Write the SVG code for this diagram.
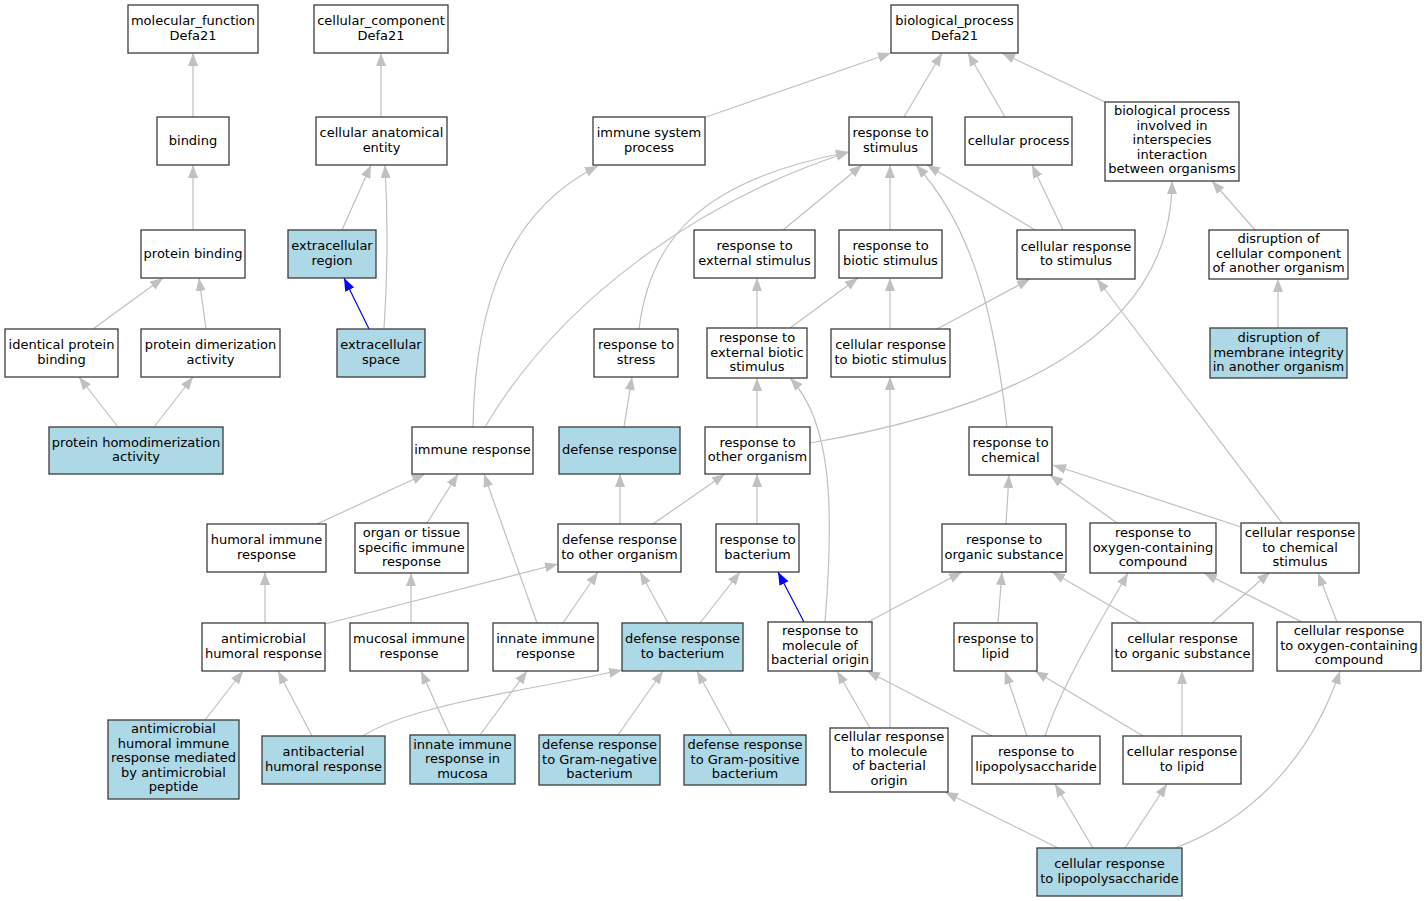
<svg xmlns="http://www.w3.org/2000/svg" width="1427" height="901" viewBox="0 0 1427 901">
<style>
.n rect{fill:#fff;stroke:#3c3c3c;stroke-width:1.3}
.n.h rect{fill:#add8e6}
.n text{font-family:"DejaVu Sans",sans-serif;font-size:13px;fill:#000;text-anchor:middle}
.e path{fill:none;stroke:#c0c0c0;stroke-width:1.2;marker-end:url(#ag)}
.e path.b{stroke:#0000ff;marker-end:url(#ab)}
</style>
<defs>
<marker id="ag" markerUnits="userSpaceOnUse" viewBox="0 0 13 10" refX="13" refY="5" markerWidth="13" markerHeight="10" orient="auto"><path d="M0,0 L13,5 L0,10 z" fill="#c0c0c0"/></marker>
<marker id="ab" markerUnits="userSpaceOnUse" viewBox="0 0 13 10" refX="13" refY="5" markerWidth="13" markerHeight="10" orient="auto"><path d="M0,0 L13,5 L0,10 z" fill="#0000ff"/></marker>
</defs>
<rect width="1427" height="901" fill="#fff"/>
<g id="edges" class="e">
<path d="M193,117 L193,53"/>
<path d="M193,230 L193,165"/>
<path d="M93,329 L163,278"/>
<path d="M206,329 L199,278"/>
<path d="M118,427 L79,377"/>
<path d="M154,427 L193,377"/>
<path d="M381,117 L381,53"/>
<path d="M342,230 L371,165"/>
<path d="M384,329 C388,270 388,220 385,165"/>
<path class="b" d="M369,329 L344,278"/>
<path d="M706,117 L891,53"/>
<path d="M904,117 L942,53"/>
<path d="M1005,117 L968,53"/>
<path d="M1105,102 L1002,53"/>
<path d="M783,230 L862,165"/>
<path d="M890,230 L890,165"/>
<path d="M1035,230 L927,165"/>
<path d="M1063,230 L1032,165"/>
<path d="M1255,230 L1212,181"/>
<path d="M1278,328 L1278,279"/>
<path d="M639,329 C650,240 700,180 849,152"/>
<path d="M485,427 C560,300 700,200 849,152"/>
<path d="M473,427 C475,300 510,210 598,166"/>
<path d="M757,328 L757,278"/>
<path d="M790,328 L858,278"/>
<path d="M890,329 L890,278"/>
<path d="M937,329 L1030,279"/>
<path d="M624,427 L632,377"/>
<path d="M757,427 L757,378"/>
<path d="M810,443 C1000,410 1172,340 1172,181"/>
<path d="M1007,427 C995,320 975,230 916,165"/>
<path d="M1282,523 L1097,279"/>
<path d="M317,524 L425,474"/>
<path d="M427,523 L458,474"/>
<path d="M620,524 L620,474"/>
<path d="M653,524 L725,474"/>
<path d="M757,524 L757,474"/>
<path d="M1006,524 L1009,475"/>
<path d="M1117,523 L1050,475"/>
<path d="M1241,527 L1053,465"/>
<path d="M265,623 L265,572"/>
<path d="M325,624 L558,564"/>
<path d="M411,623 L411,573"/>
<path d="M537,623 L484,474"/>
<path d="M563,623 L598,572"/>
<path d="M668,623 L640,572"/>
<path d="M700,623 L740,572"/>
<path class="b" d="M804,622 L778,572"/>
<path d="M825,622 C835,500 830,420 790,378"/>
<path d="M868,622 L962,572"/>
<path d="M998,623 L1002,572"/>
<path d="M1140,623 L1052,572"/>
<path d="M1212,623 L1270,572"/>
<path d="M1302,622 L1204,573"/>
<path d="M1337,622 L1318,573"/>
<path d="M205,720 L243,671"/>
<path d="M312,736 L278,671"/>
<path d="M363,736 C410,705 530,690 622,670"/>
<path d="M450,735 L421,671"/>
<path d="M480,735 L527,671"/>
<path d="M618,735 L663,671"/>
<path d="M732,735 L697,671"/>
<path d="M870,728 L837,671"/>
<path d="M890,728 L890,377"/>
<path d="M992,736 L867,671"/>
<path d="M1027,736 L1005,671"/>
<path d="M1045,736 C1060,690 1095,630 1128,573"/>
<path d="M1143,736 L1035,671"/>
<path d="M1182,736 L1182,671"/>
<path d="M1058,848 L945,792"/>
<path d="M1093,848 L1055,784"/>
<path d="M1125,848 L1167,784"/>
<path d="M1175,848 C1250,820 1310,760 1340,671"/>
</g>
<g id="n_mf" class="n"><rect x="128" y="5" width="130" height="48"/><text x="193" y="25">molecular_function</text><text x="193" y="40">Defa21</text></g>
<g id="n_cc" class="n"><rect x="314" y="5" width="134" height="48"/><text x="381" y="25">cellular_component</text><text x="381" y="40">Defa21</text></g>
<g id="n_bp" class="n"><rect x="891" y="5" width="127" height="48"/><text x="954.5" y="25">biological_process</text><text x="954.5" y="40">Defa21</text></g>
<g id="n_binding" class="n"><rect x="157" y="117" width="72" height="48"/><text x="193" y="145">binding</text></g>
<g id="n_cae" class="n"><rect x="316" y="117" width="131" height="48"/><text x="381.5" y="137">cellular anatomical</text><text x="381.5" y="152">entity</text></g>
<g id="n_isp" class="n"><rect x="593" y="117" width="112" height="48"/><text x="649" y="137">immune system</text><text x="649" y="152">process</text></g>
<g id="n_rts" class="n"><rect x="849" y="117" width="83" height="48"/><text x="890.5" y="137">response to</text><text x="890.5" y="152">stimulus</text></g>
<g id="n_cp" class="n"><rect x="965" y="117" width="107" height="48"/><text x="1018.5" y="145">cellular process</text></g>
<g id="n_bpii" class="n"><rect x="1105" y="102" width="134" height="79"/><text x="1172" y="115">biological process</text><text x="1172" y="129.5">involved in</text><text x="1172" y="144">interspecies</text><text x="1172" y="158.5">interaction</text><text x="1172" y="173">between organisms</text></g>
<g id="n_pb" class="n"><rect x="141" y="230" width="104" height="48"/><text x="193" y="258">protein binding</text></g>
<g id="n_er" class="n h"><rect x="288" y="230" width="88" height="48"/><text x="332" y="250">extracellular</text><text x="332" y="265">region</text></g>
<g id="n_rtes" class="n"><rect x="694" y="230" width="121" height="48"/><text x="754.5" y="250">response to</text><text x="754.5" y="265">external stimulus</text></g>
<g id="n_rtbs" class="n"><rect x="839" y="230" width="103" height="48"/><text x="890.5" y="250">response to</text><text x="890.5" y="265">biotic stimulus</text></g>
<g id="n_crts" class="n"><rect x="1017" y="230" width="118" height="49"/><text x="1076" y="250.5">cellular response</text><text x="1076" y="265">to stimulus</text></g>
<g id="n_dcc" class="n"><rect x="1209" y="230" width="139" height="49"/><text x="1278.5" y="243">disruption of</text><text x="1278.5" y="257.5">cellular component</text><text x="1278.5" y="272">of another organism</text></g>
<g id="n_ipb" class="n"><rect x="5" y="329" width="113" height="48"/><text x="61.5" y="349">identical protein</text><text x="61.5" y="364">binding</text></g>
<g id="n_pda" class="n"><rect x="141" y="329" width="139" height="48"/><text x="210.5" y="349">protein dimerization</text><text x="210.5" y="364">activity</text></g>
<g id="n_es" class="n h"><rect x="337" y="329" width="88" height="48"/><text x="381" y="349">extracellular</text><text x="381" y="364">space</text></g>
<g id="n_rtst" class="n"><rect x="594" y="329" width="84" height="48"/><text x="636" y="349">response to</text><text x="636" y="364">stress</text></g>
<g id="n_rtebs" class="n"><rect x="707" y="328" width="100" height="50"/><text x="757" y="342">response to</text><text x="757" y="356.5">external biotic</text><text x="757" y="371">stimulus</text></g>
<g id="n_crbs" class="n"><rect x="831" y="329" width="119" height="48"/><text x="890.5" y="349">cellular response</text><text x="890.5" y="364">to biotic stimulus</text></g>
<g id="n_dmi" class="n h"><rect x="1210" y="328" width="137" height="50"/><text x="1278.5" y="342">disruption of</text><text x="1278.5" y="356.5">membrane integrity</text><text x="1278.5" y="371">in another organism</text></g>
<g id="n_pha" class="n h"><rect x="49" y="427" width="174" height="47"/><text x="136" y="446.5">protein homodimerization</text><text x="136" y="461">activity</text></g>
<g id="n_ir" class="n"><rect x="412" y="427" width="121" height="47"/><text x="472.5" y="454">immune response</text></g>
<g id="n_dr" class="n h"><rect x="559" y="427" width="121" height="47"/><text x="619.5" y="454">defense response</text></g>
<g id="n_rtoo" class="n"><rect x="705" y="427" width="105" height="47"/><text x="757.5" y="446.5">response to</text><text x="757.5" y="461">other organism</text></g>
<g id="n_rtc" class="n"><rect x="969" y="427" width="83" height="48"/><text x="1010.5" y="447">response to</text><text x="1010.5" y="461.5">chemical</text></g>
<g id="n_hir" class="n"><rect x="207" y="524" width="119" height="48"/><text x="266.5" y="544">humoral immune</text><text x="266.5" y="559">response</text></g>
<g id="n_otsir" class="n"><rect x="355" y="523" width="113" height="50"/><text x="411.5" y="537">organ or tissue</text><text x="411.5" y="551.5">specific immune</text><text x="411.5" y="566">response</text></g>
<g id="n_drtoo" class="n"><rect x="558" y="524" width="123" height="48"/><text x="619.5" y="544">defense response</text><text x="619.5" y="559">to other organism</text></g>
<g id="n_rtb" class="n"><rect x="716" y="524" width="83" height="48"/><text x="757.5" y="544">response to</text><text x="757.5" y="559">bacterium</text></g>
<g id="n_rtos" class="n"><rect x="942" y="524" width="124" height="48"/><text x="1004" y="544">response to</text><text x="1004" y="559">organic substance</text></g>
<g id="n_rtocc" class="n"><rect x="1090" y="523" width="126" height="50"/><text x="1153" y="537">response to</text><text x="1153" y="551.5">oxygen-containing</text><text x="1153" y="566">compound</text></g>
<g id="n_crtcs" class="n"><rect x="1241" y="523" width="118" height="50"/><text x="1300" y="537">cellular response</text><text x="1300" y="551.5">to chemical</text><text x="1300" y="566">stimulus</text></g>
<g id="n_ahr" class="n"><rect x="202" y="623" width="123" height="48"/><text x="263.5" y="643">antimicrobial</text><text x="263.5" y="658">humoral response</text></g>
<g id="n_mir" class="n"><rect x="350" y="623" width="118" height="48"/><text x="409" y="643">mucosal immune</text><text x="409" y="658">response</text></g>
<g id="n_iir" class="n"><rect x="493" y="623" width="105" height="48"/><text x="545.5" y="643">innate immune</text><text x="545.5" y="658">response</text></g>
<g id="n_drtb" class="n h"><rect x="622" y="623" width="121" height="48"/><text x="682.5" y="643">defense response</text><text x="682.5" y="658">to bacterium</text></g>
<g id="n_rtmbo" class="n"><rect x="768" y="622" width="104" height="49"/><text x="820" y="635">response to</text><text x="820" y="649.5">molecule of</text><text x="820" y="664">bacterial origin</text></g>
<g id="n_rtl" class="n"><rect x="954" y="623" width="83" height="48"/><text x="995.5" y="643">response to</text><text x="995.5" y="658">lipid</text></g>
<g id="n_crtos" class="n"><rect x="1112" y="623" width="141" height="48"/><text x="1182.5" y="643">cellular response</text><text x="1182.5" y="658">to organic substance</text></g>
<g id="n_crtocc" class="n"><rect x="1277" y="622" width="144" height="49"/><text x="1349" y="635">cellular response</text><text x="1349" y="649.5">to oxygen-containing</text><text x="1349" y="664">compound</text></g>
<g id="n_ahirm" class="n h"><rect x="108" y="720" width="131" height="79"/><text x="173.5" y="733">antimicrobial</text><text x="173.5" y="747.5">humoral immune</text><text x="173.5" y="762">response mediated</text><text x="173.5" y="776.5">by antimicrobial</text><text x="173.5" y="791">peptide</text></g>
<g id="n_abhr" class="n h"><rect x="262" y="736" width="123" height="48"/><text x="323.5" y="756">antibacterial</text><text x="323.5" y="771">humoral response</text></g>
<g id="n_iirm" class="n h"><rect x="410" y="735" width="105" height="49"/><text x="462.5" y="748.5">innate immune</text><text x="462.5" y="763">response in</text><text x="462.5" y="777.5">mucosa</text></g>
<g id="n_drgn" class="n h"><rect x="539" y="735" width="121" height="50"/><text x="599.5" y="749">defense response</text><text x="599.5" y="763.5">to Gram-negative</text><text x="599.5" y="778">bacterium</text></g>
<g id="n_drgp" class="n h"><rect x="684" y="735" width="122" height="50"/><text x="745" y="749">defense response</text><text x="745" y="763.5">to Gram-positive</text><text x="745" y="778">bacterium</text></g>
<g id="n_crmbo" class="n"><rect x="830" y="728" width="118" height="64"/><text x="889" y="741">cellular response</text><text x="889" y="755.5">to molecule</text><text x="889" y="770">of bacterial</text><text x="889" y="784.5">origin</text></g>
<g id="n_rtlps" class="n"><rect x="972" y="736" width="128" height="48"/><text x="1036" y="756">response to</text><text x="1036" y="771">lipopolysaccharide</text></g>
<g id="n_crtl" class="n"><rect x="1123" y="736" width="118" height="48"/><text x="1182" y="756">cellular response</text><text x="1182" y="771">to lipid</text></g>
<g id="n_crlps" class="n h"><rect x="1037" y="848" width="145" height="48"/><text x="1109.5" y="868">cellular response</text><text x="1109.5" y="883">to lipopolysaccharide</text></g>
</svg>
